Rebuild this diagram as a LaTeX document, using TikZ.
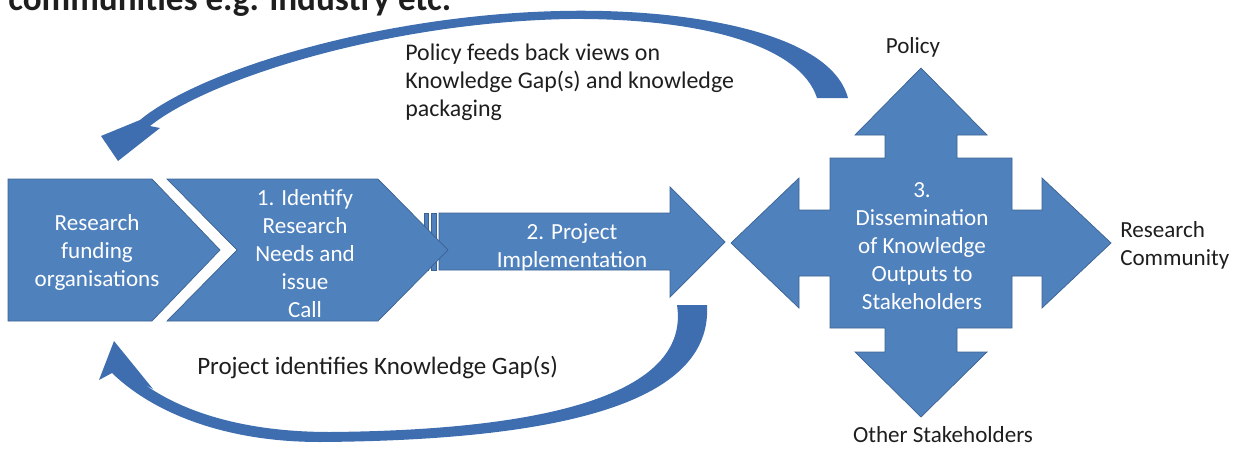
\documentclass[tikz,border=0pt]{standalone}
\usepackage{fontspec}
\setmainfont{Carlito}
\definecolor{fillblue}{RGB}{79,129,189}
\definecolor{lineblue}{RGB}{60,98,145}
\definecolor{curveblue}{RGB}{62,110,176}
\definecolor{txtgrey}{RGB}{30,30,30}
\newcommand{\txtsize}{\fontsize{16.4}{19.9}\selectfont}
\tikzset{
  blockshape/.style={fill=fillblue, draw=lineblue, line width=0.5pt, line join=miter},
  curvearrow/.style={fill=curveblue, draw=none},
  boxtext/.style={text=white, align=center, font=\txtsize, inner sep=0pt},
  outlabel/.style={text=txtgrey, align=left, font=\txtsize, inner sep=0pt}
}
\begin{document}
\begin{tikzpicture}[x=0.025cm, y=-0.025cm]
  \useasboundingbox (0,0) rectangle (1237,448);
  \node[anchor=base west, inner sep=0pt, text=txtgrey, font=\fontsize{25}{30}\selectfont\bfseries] (heading) at (8,10) {communities e.g. industry etc.};

  % feedback arrows
  \path[curvearrow] (848,98) .. controls (830,30) and (680,8) .. (560,11)
      .. controls (380,15) and (200,70) .. (140,120)
      -- (101,136) -- (118,161) -- (160,128) -- (150,126)
      .. controls (210,78) and (390,22) .. (570,19)
      .. controls (700,18) and (800,45) .. (817,98) -- cycle;
  \path[curvearrow] (677,305) -- (707,305)
      .. controls (712,390) and (600,440) .. (320,442)
      .. controls (220,442) and (150,410) .. (112,373)
      -- (99,380) -- (114,341) -- (153,389) -- (144,384)
      .. controls (180,410) and (240,432) .. (330,432)
      .. controls (560,430) and (690,390) .. (677,305) -- cycle;

  % process chain
  \draw[blockshape] (8,179) -- (152,179) -- (220,250) -- (152,321) -- (8,321) -- cycle;
  \draw[blockshape] (424,213) rectangle (428,270);
  \draw[blockshape] (431,213) rectangle (436,270);
  \draw[blockshape] (439,213) -- (670,213) -- (670,187) -- (725,242) -- (670,297) -- (670,270) -- (439,270) -- cycle;
  \draw[blockshape] (167,179) -- (378,179) -- (448,250) -- (378,321) -- (167,321) -- (237,250) -- cycle;

  % dissemination cross
  \draw[blockshape, shift={(921,243)}] (0,-175) -- (66,-108) -- (36,-108) -- (36,-85) -- (91,-85)
      -- (91,-33) -- (121,-33) -- (121,-65) -- (190,0) -- (121,65) -- (121,33) -- (91,33)
      -- (91,85) -- (36,85) -- (36,109) -- (66,109) -- (0,174) -- (-66,109) -- (-36,109)
      -- (-36,85) -- (-91,85) -- (-91,33) -- (-122,33) -- (-122,65) -- (-190,0) -- (-122,-65)
      -- (-122,-33) -- (-91,-33) -- (-91,-85) -- (-36,-85) -- (-36,-108) -- (-66,-108) -- cycle;

  \node[boxtext] (funders) at (97,252) {Research\\funding\\organisations};
  \node[boxtext] (identify) at (305,254) {1. Identify\\Research\\Needs and\\issue\\Call};
  \node[boxtext] (project) at (572,247) {2. Project\\Implementation};
  \node[boxtext] (dissem) at (922,246) {3.\\Dissemination\\of Knowledge\\Outputs to\\Stakeholders};

  \node[outlabel, anchor=north west, font=\fontsize{17}{19.6}\selectfont] (policyfb) at (405,44) {Policy feeds back views on\\Knowledge Gap(s) and knowledge\\packaging};
  \node[outlabel, anchor=base west, font=\fontsize{17.8}{21}\selectfont] (gaps) at (197,374) {Project identifies Knowledge Gap(s)};
  \node[outlabel, anchor=center] (policy) at (913,47) {Policy};
  \node[outlabel, anchor=west] (rescomm) at (1120,245) {Research\\Community};
  \node[outlabel, anchor=center] (others) at (943,435) {Other Stakeholders};
\end{tikzpicture}
\end{document}
